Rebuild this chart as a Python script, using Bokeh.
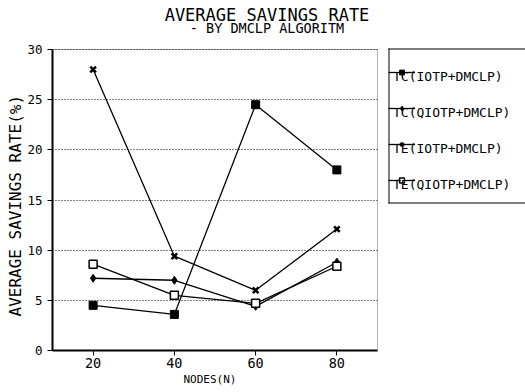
from bokeh.plotting import figure
from bokeh.models import (Range1d, Legend, LegendItem, Title, FixedTicker, BoxAnnotation, Label)
from bokeh.embed import file_html
from bokeh.resources import INLINE

# ---- data ----
nodes = [20, 40, 60, 80]
tc_iotp = [4.5, 3.6, 24.5, 18.0]
tc_qiotp = [7.2, 7.0, 4.4, 8.8]
te_iotp = [28.0, 9.4, 6.0, 12.1]
te_qiotp = [8.6, 5.5, 4.7, 8.4]
series_names = ["TC(IOTP+DMCLP)", "TC(QIOTP+DMCLP)", "TE(IOTP+DMCLP)", "TE(QIOTP+DMCLP)"]
x_ticks = [20, 40, 60, 80]
y_ticks = [0, 5, 10, 15, 20, 25, 30]
x_lo, x_hi = 10, 90
y_lo, y_hi = 0, 30
title_text = "AVERAGE SAVINGS RATE"
subtitle_text = "- BY DMCLP ALGORITM"
x_label = "NODES(N)"
y_label = "AVERAGE SAVINGS RATE(%)"

FONT = "DejaVu Sans Mono"

# ---- layout (pixels) ----
W, H = 525, 388
LEFT, BOTTOM = 52, 38
BOX_W, BOX_H = 325, 301          # size of the plot box (x 10..90, y 0..30)
frame_w = W - LEFT
frame_h = H - BOTTOM
px_x = BOX_W / (x_hi - x_lo)
px_y = BOX_H / (y_hi - y_lo)
x_end = x_lo + frame_w / px_x
y_end = y_lo + frame_h / px_y

p = figure(width=W, height=H, x_range=Range1d(x_lo, x_end), y_range=Range1d(y_lo, y_end),
           output_backend="svg", toolbar_location=None,
           min_border_left=LEFT, min_border_right=0, min_border_top=0, min_border_bottom=BOTTOM,
           background_fill_color="white", border_fill_color="white")
p.title.visible = False
p.outline_line_color = None

def sx(px):   # page x pixel -> data x
    return x_lo + (px - LEFT) / px_x
def sy(py):   # page y pixel -> data y
    return y_lo + (frame_h - py) / px_y

# titles
p.add_layout(Label(x=sx(266.5), y=sy(14), text=title_text, text_align="center",
                   text_baseline="alphabetic", text_font=FONT, text_font_size="17px",
                   text_color="black"))
p.add_layout(Label(x=sx(266.5), y=sy(27.5), text=subtitle_text, text_align="center",
                   text_baseline="alphabetic", text_font=FONT, text_font_size="13.5px",
                   text_color="black"))

# grid
p.xgrid.visible = False
p.ygrid.grid_line_color = "black"
p.ygrid.grid_line_dash = "1 2"
p.ygrid.grid_line_width = 1
p.add_layout(BoxAnnotation(left=x_hi, fill_color="white", fill_alpha=1, line_color=None,
                           level="underlay"))
p.add_layout(BoxAnnotation(left=x_lo, right=x_hi, bottom=y_lo, top=y_hi, fill_alpha=0,
                           line_color="black", line_width=1))

# axes
p.xaxis.ticker = FixedTicker(ticks=x_ticks)
p.yaxis.ticker = FixedTicker(ticks=y_ticks)
p.xaxis.bounds = (x_lo, x_hi)
p.yaxis.bounds = (y_lo, y_hi)
for ax in (p.xaxis, p.yaxis):
    ax.minor_tick_line_color = None
    ax.major_tick_out = 5
    ax.major_tick_in = 0
    ax.axis_line_width = 2
    ax.axis_line_color = "black"
    ax.major_tick_line_color = "black"
    ax.major_label_text_font = FONT
    ax.major_label_text_color = "black"
p.xaxis.major_label_text_font_size = "13.5px"
p.xaxis.major_label_standoff = 2
p.yaxis.major_label_text_font_size = "12.5px"
p.yaxis.major_label_standoff = 5

p.add_layout(Title(text=x_label, text_font=FONT, text_font_size="11px", text_font_style="normal",
                   text_color="black", align="left", offset=131, standoff=0), "below")
p.add_layout(Title(text=y_label, text_font=FONT, text_font_size="16px", text_font_style="normal",
                   text_color="black", align="left", offset=34, standoff=0), "left")

# legend frame: open on the right, running past the picture's edge as in the reference
LG_L, LG_T, LG_B = 388, 48, 203
p.add_layout(BoxAnnotation(left=sx(LG_L), right=x_end + 10, top=sy(LG_T), bottom=sy(LG_B),
                           fill_color="white", fill_alpha=1, line_color=None))
for l, r, t, b in [(LG_L, None, LG_T, LG_T + 1), (LG_L, None, LG_B - 1, LG_B),
                   (LG_L, LG_L + 1, LG_T, LG_B)]:
    p.add_layout(BoxAnnotation(left=sx(l), right=(x_end + 10 if r is None else sx(r)),
                               top=sy(t), bottom=sy(b), fill_color="black", fill_alpha=1,
                               line_color=None))

# series
styles = [
    dict(marker="square", size=8, fill_color="black", line_width=1),
    dict(marker="diamond", size=8, fill_color="black", line_width=1),
    dict(marker="x", size=8, fill_color="black", line_width=2.5),
    dict(marker="square", size=8, fill_color="white", line_width=1.5),
]
series = [tc_iotp, tc_qiotp, te_iotp, te_qiotp]

glyph_items = []
text_items = []
for name, vals, st in zip(series_names, series, styles):
    lr = p.line(nodes, vals, line_color="black", line_width=1.3)
    sr = p.scatter(nodes, vals, marker=st["marker"], size=st["size"],
                   fill_color=st["fill_color"], line_color="black", line_width=st["line_width"])
    blank = p.line([], [], line_alpha=0)
    glyph_items.append(LegendItem(label=" ", renderers=[lr, sr]))
    glyph_items.append(LegendItem(label=" ", renderers=[blank]))
    text_items.append(LegendItem(label=name, renderers=[blank]))

# sample glyphs
legend_a = Legend(items=glyph_items, location=(336, 146), orientation="vertical",
                  glyph_width=27, glyph_height=12, label_height=12, label_width=20,
                  label_standoff=120, spacing=6, padding=9, margin=0,
                  label_text_font=FONT, label_text_font_size="8px", label_text_alpha=0,
                  border_line_color=None, background_fill_alpha=0)
# the series names, each under its sample
legend_b = Legend(items=text_items, location=(341, 158), orientation="vertical",
                  glyph_width=0, glyph_height=12, label_height=12, label_standoff=0,
                  spacing=21, padding=0, margin=0,
                  label_text_font=FONT, label_text_font_size="13px", label_text_color="black",
                  border_line_color=None, background_fill_alpha=0)
p.add_layout(legend_a, "center")
p.add_layout(legend_b, "center")

open("out.html", "w").write(file_html(p, INLINE))
